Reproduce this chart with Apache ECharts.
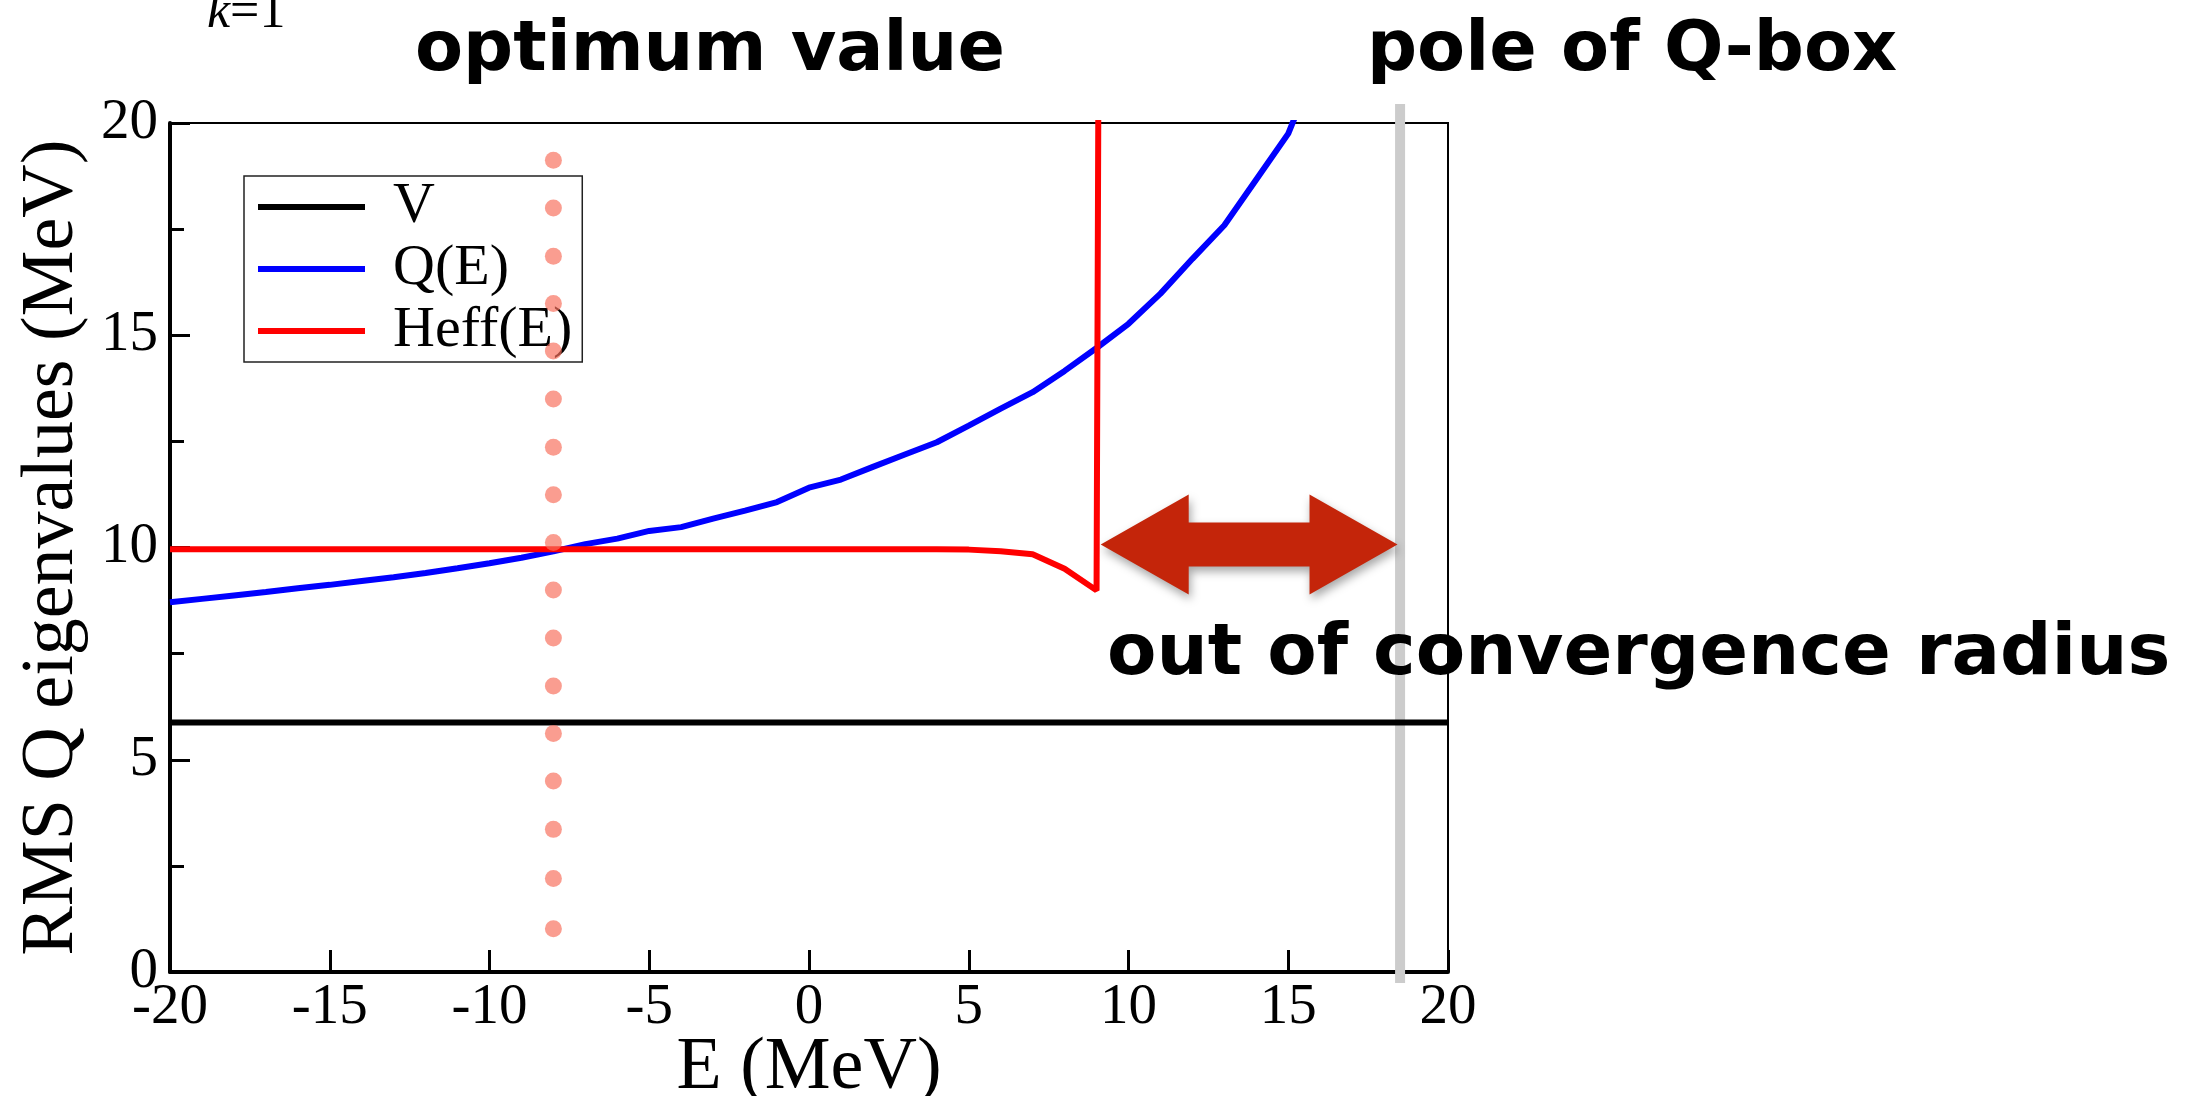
<!DOCTYPE html>
<html>
<head>
<meta charset="utf-8">
<script src="https://cdn.jsdelivr.net/npm/echarts@6/dist/echarts.min.js"></script>
<style>
  html, body { margin: 0; padding: 0; background: #fff; }
  #chart { width: 2198px; height: 1096px; }
</style>
</head>
<body>
<div id="chart"></div>
<script>
// Q-box eigenvalues vs starting energy E
const qEnergies = [-20, -19, -18, -17, -16, -15, -14, -13, -12, -11, -10, -9, -8, -7, -6, -5, -4, -3, -2, -1,
  0, 1, 2, 3, 4, 5, 6, 7, 8, 9, 10, 11, 12, 13, 14, 15, 16]
const qValues = [8.71, 8.79, 8.87, 8.95, 9.04, 9.12, 9.21, 9.30, 9.40, 9.51, 9.63, 9.76, 9.91, 10.08, 10.21, 10.39, 10.48, 10.68, 10.87, 11.07,
  11.41, 11.60, 11.90, 12.19, 12.48, 12.87, 13.27, 13.66, 14.16, 14.70, 15.27, 15.98, 16.80, 17.59, 18.67, 19.75, 21.6]

const heffEnergies = [-20, 4, 5, 6, 7, 8, 9, 10]
const heffValues = [9.96, 9.96, 9.95, 9.91, 9.84, 9.50, 8.99, 215]

const vEnergies = [-20, 20]
const vValues = [5.88, 5.88]

const optimumE = -8
const optimumDots = [19.12, 18.0, 16.86, 15.75, 14.63, 13.5, 12.36, 11.24, 10.12, 9.0, 7.87, 6.74, 5.62, 4.5, 3.36, 2.2, 1.02]

const poleE = 18.5
const arrowFromE = 9.13
const arrowToE = 18.42
const arrowLevel = 10.07

const xMin = -20, xMax = 20, xStep = 5
const yMin = 0, yMax = 20, yStep = 5
const xTickValues = [-15, -10, -5, 0, 5, 10, 15]

const serif = "'Liberation Serif', 'DejaVu Serif', serif"
const sans = "'DejaVu Sans', sans-serif"

const pairs = (xs, ys) => xs.map((x, i) => [x, ys[i]])

const chart = echarts.init(document.getElementById("chart"))

chart.setOption({
  animation: false,
  backgroundColor: "#fff",
  grid: {
    left: 170,
    right: 750,
    top: 123,
    bottom: 124,
    outerBoundsMode: "none",
    show: true,
    borderColor: "#000",
    borderWidth: 2,
  },
  legend: {
    orient: "vertical",
    left: 244,
    top: 176,
    padding: [0, 10, 0, 14],
    itemGap: 0,
    itemWidth: 107,
    itemHeight: 6,
    icon: "rect",
    borderColor: "#222",
    borderWidth: 1.5,
    data: ["V", "Q(E)", "Heff(E)"],
    textStyle: {
      fontFamily: serif,
      fontSize: 58,
      lineHeight: 62,
      color: "#000",
      padding: [0, 0, 0, 23],
    },
  },
  xAxis: {
    type: "value",
    min: xMin,
    max: xMax,
    interval: xStep,
    name: "E (MeV)",
    nameLocation: "middle",
    nameGap: 60,
    nameMoveOverlap: false,
    nameTextStyle: { fontFamily: serif, fontSize: 74, lineHeight: 74, color: "#000" },
    axisLine: { show: true, onZero: false, lineStyle: { color: "#000", width: 4 } },
    axisTick: { show: true, inside: true, length: 22, lineStyle: { color: "#000", width: 3 } },
    axisLabel: { fontFamily: serif, fontSize: 57, color: "#000", margin: 8 },
    splitLine: { show: false },
  },
  yAxis: {
    type: "value",
    min: yMin,
    max: yMax,
    interval: yStep,
    name: "RMS Q eigenvalues (MeV)",
    nameLocation: "middle",
    nameRotate: 90,
    nameGap: 80,
    nameMoveOverlap: false,
    nameTextStyle: { fontFamily: serif, fontSize: 74, lineHeight: 74, color: "#000" },
    axisLine: { show: true, onZero: false, lineStyle: { color: "#000", width: 4 } },
    axisTick: { show: true, inside: true, length: 20, lineStyle: { color: "#000", width: 3 } },
    minorTick: { show: true, splitNumber: 2, length: 14, lineStyle: { color: "#000", width: 3 } },
    axisLabel: { fontFamily: serif, fontSize: 57, color: "#000", margin: 12 },
    splitLine: { show: false },
  },
  series: [
    {
      name: "V",
      type: "line",
      data: pairs(vEnergies, vValues),
      symbol: "none",
      lineStyle: { color: "#000", width: 6 },
      itemStyle: { color: "#000" },
      z: 3,
    },
    {
      name: "Q(E)",
      type: "line",
      data: pairs(qEnergies, qValues),
      symbol: "none",
      clip: true,
      lineStyle: { color: "#0000ff", width: 6 },
      itemStyle: { color: "#0000ff" },
      z: 4,
    },
    {
      name: "Heff(E)",
      type: "line",
      data: pairs(heffEnergies, heffValues),
      symbol: "none",
      clip: true,
      lineStyle: { color: "#ff0000", width: 6 },
      itemStyle: { color: "#ff0000" },
      z: 5,
    },
    {
      name: "optimum",
      type: "scatter",
      data: optimumDots.map((y) => [optimumE, y]),
      symbolSize: 17,
      itemStyle: { color: "rgba(248,112,92,0.85)" },
      z: 6,
    },
  ],
})

// annotations: pole band, double arrow, labels, bottom ticks
const [poleX] = chart.convertToPixel({ gridIndex: 0 }, [poleE, 0])
const [ax1, ay] = chart.convertToPixel({ gridIndex: 0 }, [arrowFromE, arrowLevel])
const [ax2] = chart.convertToPixel({ gridIndex: 0 }, [arrowToE, arrowLevel])
const [, y0px] = chart.convertToPixel({ gridIndex: 0 }, [0, yMin])
const tickTop = chart.convertFromPixel({ gridIndex: 0 }, [0, y0px - 22])[1]
const headLen = 88
const headHalf = 50
const shaftHalf = 22

chart.setOption({
  series: [
    {},
    {},
    {},
    {},
    {
      name: "ticks",
      type: "line",
      data: [],
      silent: true,
      z: 7,
      markLine: {
        silent: true,
        symbol: "none",
        label: { show: false },
        lineStyle: { color: "#000", width: 3, type: "solid" },
        data: xTickValues.map((x) => [{ coord: [x, yMin] }, { coord: [x, tickTop] }]),
      },
    },
  ],
  graphic: [
    {
      type: "rect",
      z: 1,
      shape: { x: poleX - 5, y: 104, width: 10, height: 879 },
      style: { fill: "#cccccc" },
    },
    {
      type: "polygon",
      z: 10,
      shape: {
        points: [
          [ax1, ay],
          [ax1 + headLen, ay - headHalf],
          [ax1 + headLen, ay - shaftHalf],
          [ax2 - headLen, ay - shaftHalf],
          [ax2 - headLen, ay - headHalf],
          [ax2, ay],
          [ax2 - headLen, ay + headHalf],
          [ax2 - headLen, ay + shaftHalf],
          [ax1 + headLen, ay + shaftHalf],
          [ax1 + headLen, ay + headHalf],
        ],
      },
      style: {
        fill: "#c4250a",
        shadowBlur: 10,
        shadowOffsetX: 2,
        shadowOffsetY: 5,
        shadowColor: "rgba(0,0,0,0.35)",
      },
    },
    {
      type: "text",
      z: 10,
      x: 415,
      y: 52,
      style: {
        text: "optimum value",
        font: "bold 70px " + sans,
        fill: "#000",
        verticalAlign: "middle",
      },
    },
    {
      type: "text",
      z: 10,
      x: 1367,
      y: 52,
      style: {
        text: "pole of Q-box",
        font: "bold 70px " + sans,
        fill: "#000",
        verticalAlign: "middle",
      },
    },
    {
      type: "text",
      z: 10,
      x: 1107,
      y: 655,
      style: {
        text: "out of convergence radius",
        font: "bold 72px " + sans,
        fill: "#000",
        verticalAlign: "middle",
      },
    },
    {
      type: "text",
      z: 10,
      x: 207,
      y: 39,
      style: {
        text: "{it|k}=1",
        font: "52px " + serif,
        fill: "#000",
        verticalAlign: "bottom",
        rich: {
          it: { fontStyle: "italic", fontFamily: serif, fontSize: 52, fill: "#000" },
        },
      },
    },
  ],
})

window.addEventListener("resize", () => chart.resize())
</script>
</body>
</html>
